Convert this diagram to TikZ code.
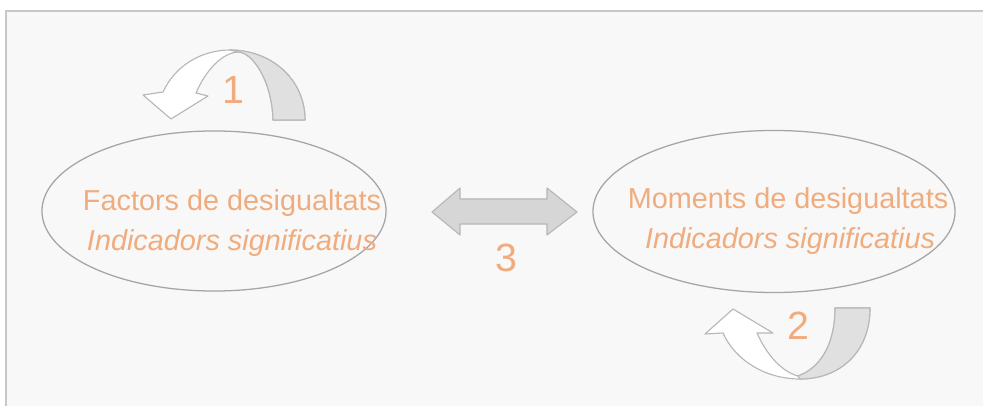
\documentclass[tikz,border=0pt]{standalone}
\usepackage{fontspec}
\setmainfont{Liberation Sans}
\usepackage{tikz}
\usetikzlibrary{shapes.geometric}
\definecolor{txtorange}{RGB}{240,172,125}
\definecolor{linegray}{RGB}{165,165,165}
\definecolor{arrowgray}{RGB}{224,224,224}
\definecolor{dblgray}{RGB}{214,214,214}
\definecolor{framegray}{RGB}{200,200,200}
\definecolor{panelgray}{RGB}{248,248,248}

\begin{document}
\begin{tikzpicture}[x=0.025cm,y=-0.025cm,
  bubble/.style={ellipse,draw=linegray,line width=0.9pt,inner sep=0pt},
  bubbletext/.style={text=txtorange,anchor=base,inner sep=0pt,font=\fontsize{20.5}{24}\selectfont},
  numtext/.style={text=txtorange,inner sep=0pt,font=\fontsize{28}{30}\selectfont},
  curvearrow/.style={draw=linegray!80,line width=0.8pt,line join=round}]
\useasboundingbox (0,0) rectangle (983,406);
\fill[white] (0,0) rectangle (983,406);
\fill[panelgray] (6,11) rectangle (983,406);
\draw[framegray,line width=1pt] (6,406) -- (6,11) -- (983,11);
\node[bubble,minimum width=8.6cm,minimum height=4.0cm] (factors) at (214,211) {};
\node[bubble,minimum width=9.05cm,minimum height=4.05cm] (moments) at (774,211.5) {};
\node[bubbletext] (factorsA) at (232,210) {Factors de desigualtats};
\node[bubbletext] (factorsB) at (232,250) {\itshape Indicadors significatius};
\node[bubbletext] (momentsA) at (788,209) {Moments de desigualtats};
\node[bubbletext] (momentsB) at (790,248) {\itshape Indicadors significatius};
\filldraw[curvearrow,fill=white] (305,120) .. controls (305,79) and (271,50) .. (230,50) .. controls (201,50) and (175,66) .. (163,92) -- (143,95) -- (171,119) -- (208,96) -- (196,93) .. controls (206,70) and (222,53) .. (238,52) .. controls (252,52) and (272,80) .. (273,120) -- cycle;
\filldraw[curvearrow,fill=arrowgray] (273,120) .. controls (272,80) and (252,52) .. (238,52) -- (230,50) .. controls (271,50) and (305,79) .. (305,120) -- cycle;
\filldraw[curvearrow,fill=white] (870,308) .. controls (870,352) and (840,379) .. (800,379) .. controls (765,379) and (735,360) .. (723,333) -- (705,334) -- (733,309) -- (773,333) -- (757,333) .. controls (766,353) and (780,371) .. (798,376) .. controls (820,368) and (835,345) .. (835,308) -- cycle;
\filldraw[curvearrow,fill=arrowgray] (835,308) .. controls (835,345) and (820,368) .. (798,376) -- (800,379) .. controls (840,379) and (870,352) .. (870,308) -- cycle;
\filldraw[curvearrow,fill=dblgray] (432,212) -- (460,188) -- (460,199) -- (547,199) -- (547,188) -- (577,212) -- (547,235) -- (547,224) -- (460,224) -- (460,235) -- cycle;
\node[numtext] (one) at (233,90) {1};
\node[numtext] (two) at (798,326) {2};
\node[numtext] (three) at (506,258) {3};
\end{tikzpicture}
\end{document}
